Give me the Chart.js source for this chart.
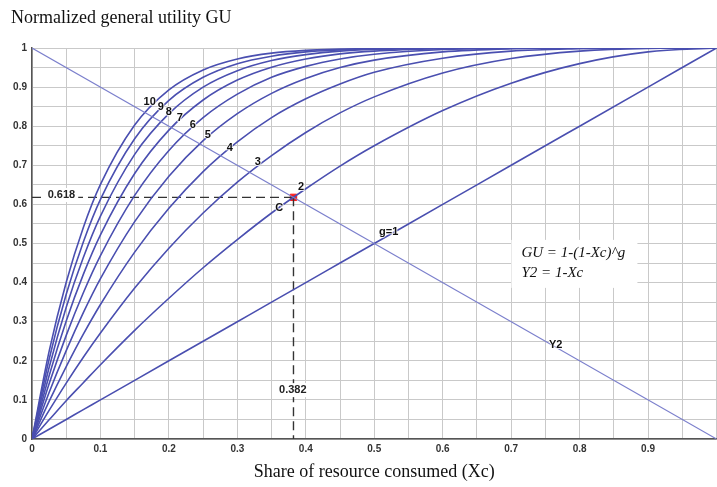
<!DOCTYPE html>
<html>
<head>
<meta charset="utf-8">
<script src="https://cdn.jsdelivr.net/npm/chart.js@4/dist/chart.umd.min.js"></script>
<style>
  html, body { margin: 0; padding: 0; background: #fff; overflow: hidden; }
  #wrap { width: 722px; height: 487px; }
</style>
</head>
<body>
<div id="wrap"><canvas id="gu"></canvas></div>
<script>
// share of resource consumed (Xc)
const xc = [0, 0.025, 0.05, 0.075, 0.1, 0.15, 0.2, 0.25, 0.3, 0.35, 0.4, 0.45, 0.5, 0.6, 0.7, 0.8, 0.9, 1];

// GU curves, one per g
const gu1  = [0, 0.025, 0.05, 0.075, 0.10, 0.15, 0.20, 0.25, 0.30, 0.35, 0.40, 0.45, 0.50, 0.60, 0.70, 0.80, 0.90, 1];
const gu2  = [0, 0.049, 0.098, 0.144, 0.19, 0.278, 0.36, 0.438, 0.51, 0.578, 0.64, 0.698, 0.75, 0.84, 0.91, 0.96, 0.99, 1];
const gu3  = [0, 0.073, 0.143, 0.209, 0.271, 0.386, 0.488, 0.578, 0.657, 0.725, 0.784, 0.834, 0.875, 0.936, 0.973, 0.992, 0.999, 1];
const gu4  = [0, 0.096, 0.185, 0.268, 0.344, 0.478, 0.59, 0.684, 0.76, 0.822, 0.87, 0.908, 0.938, 0.974, 0.992, 0.998, 1, 1];
const gu5  = [0, 0.119, 0.226, 0.323, 0.41, 0.556, 0.672, 0.763, 0.832, 0.884, 0.922, 0.95, 0.969, 0.99, 0.998, 1, 1, 1];
const gu6  = [0, 0.141, 0.265, 0.374, 0.469, 0.623, 0.738, 0.822, 0.882, 0.925, 0.953, 0.972, 0.984, 0.996, 0.999, 1, 1, 1];
const gu7  = [0, 0.162, 0.302, 0.421, 0.522, 0.679, 0.79, 0.867, 0.918, 0.951, 0.972, 0.985, 0.992, 0.998, 1, 1, 1, 1];
const gu8  = [0, 0.183, 0.337, 0.464, 0.57, 0.728, 0.832, 0.90, 0.942, 0.968, 0.983, 0.992, 0.996, 0.999, 1, 1, 1, 1];
const gu9  = [0, 0.204, 0.37, 0.504, 0.613, 0.768, 0.866, 0.925, 0.96, 0.979, 0.99, 0.995, 0.998, 1, 1, 1, 1, 1];
const gu10 = [0, 0.224, 0.401, 0.541, 0.651, 0.803, 0.893, 0.944, 0.972, 0.987, 0.994, 0.997, 0.999, 1, 1, 1, 1, 1];

// Y2 = 1 - Xc
const y2x = [0, 1];
const y2 = [1, 0];

// point C
const cX = 0.382;
const cY = 0.618;

const guCurves = [gu1, gu2, gu3, gu4, gu5, gu6, gu7, gu8, gu9, gu10];

// text placed on the plot (data coordinates)
const notes = [
    { t: "10", x: 0.172, y: 0.862 },
    { t: "9", x: 0.188, y: 0.849 },
    { t: "8", x: 0.200, y: 0.836 },
    { t: "7", x: 0.216, y: 0.821 },
    { t: "6", x: 0.235, y: 0.803 },
    { t: "5", x: 0.257, y: 0.777 },
    { t: "4", x: 0.289, y: 0.744 },
    { t: "3", x: 0.330, y: 0.708 },
    { t: "2", x: 0.393, y: 0.645 },
    { t: "g=1", x: 0.521, y: 0.529 },
    { t: "Y2", x: 0.765, y: 0.240 },
    { t: "C", x: 0.361, y: 0.591 },
];

function pts(xs, ys) {
    return xs.map(function (x, i) { return { x: x, y: ys[i] }; });
}

let datasets = [];

datasets.push({
    label: "Y2",
    data: pts(y2x, y2),
    borderColor: "#7b7fcc",
    borderWidth: 1.1,
    pointRadius: 0,
});

guCurves.forEach(function (g, i) {
    datasets.push({
        label: "g=" + (i + 1),
        data: pts(xc, g),
        borderColor: "#4a4fb0",
        borderWidth: 1.6,
        pointRadius: 0,
        cubicInterpolationMode: "monotone",
    });
});

datasets.push({
    label: "dash h",
    data: [{ x: 0, y: cY }, { x: cX, y: cY }],
    borderColor: "#333",
    borderWidth: 1.4,
    borderDash: [9, 5],
    pointRadius: 0,
});
datasets.push({
    label: "dash v",
    data: [{ x: cX, y: cY }, { x: cX, y: 0 }],
    borderColor: "#333",
    borderWidth: 1.4,
    borderDash: [9, 5],
    pointRadius: 0,
});
datasets.push({
    label: "C",
    data: [{ x: cX, y: cY }],
    showLine: false,
    pointStyle: "rect",
    pointRadius: 4.5,
    backgroundColor: "#ff1a1a",
    borderColor: "#ff1a1a",
});

// draws title, curve labels, boxed values and the formula
const textPlugin = {
    id: "textPlugin",
    afterDatasetsDraw(chart) {
        const ctx = chart.ctx;
        const xs = chart.scales.x;
        const ys = chart.scales.y;
        ctx.save();

        // boxed dashed-line values
        ctx.font = "bold 11px 'Liberation Sans', Arial, sans-serif";
        ctx.textAlign = "center";
        ctx.textBaseline = "middle";
        [["0.618", 0.043, 0.624], ["0.382", 0.381, 0.125]].forEach(function (b) {
            const px = xs.getPixelForValue(b[1]);
            const py = ys.getPixelForValue(b[2]);
            const w = ctx.measureText(b[0]).width + 6;
            ctx.fillStyle = "#fff";
            ctx.fillRect(px - w / 2, py - 7, w, 14);
            ctx.fillStyle = "#222";
            ctx.fillText(b[0], px, py);
        });

        // curve labels
        notes.forEach(function (n) {
            const px = xs.getPixelForValue(n.x);
            const py = ys.getPixelForValue(n.y);
            ctx.lineWidth = 2;
            ctx.strokeStyle = "rgba(255,255,255,0.8)";
            ctx.strokeText(n.t, px, py);
            ctx.fillStyle = "#111";
            ctx.fillText(n.t, px, py);
        });

        // formula box
        const fx = xs.getPixelForValue(0.715);
        const fy = ys.getPixelForValue(0.476);
        ctx.fillStyle = "#fff";
        ctx.fillRect(fx - 10, fy - 13, 126, 48);
        ctx.font = "italic 15px 'Liberation Serif', 'Times New Roman', serif";
        ctx.textAlign = "left";
        ctx.fillStyle = "#111";
        ctx.fillText("GU = 1-(1-Xc)^g", fx, fy);
        ctx.fillText("Y2 = 1-Xc", fx, fy + 20);

        // y title at top left
        ctx.font = "18px 'Liberation Serif', 'Times New Roman', serif";
        ctx.textBaseline = "alphabetic";
        ctx.fillText("Normalized general utility GU", 11, 23);
        ctx.restore();
    },
};

new Chart(document.getElementById("gu"), {
    type: "line",
    data: { datasets: datasets },
    plugins: [textPlugin],
    options: {
        responsive: true,
        maintainAspectRatio: false,
        animation: false,
        layout: { padding: { top: 48, right: 2, left: 0, bottom: 0 } },
        plugins: { legend: { display: false }, tooltip: { enabled: false } },
        scales: {
            x: {
                type: "linear",
                min: 0,
                max: 1,
                afterFit: function (s) { s.height = 48; },
                border: { color: "#555", width: 1.5 },
                grid: { color: "#c9c9c9", lineWidth: 1, drawTicks: false },
                ticks: {
                    stepSize: 0.05,
                    autoSkip: false,
                    maxRotation: 0,
                    padding: 4,
                    color: "#333",
                    font: { family: "'Liberation Sans', Arial, sans-serif", size: 10, weight: "bold" },
                    callback: function (v) {
                        const r = Math.round(v * 100);
                        if (r % 10 !== 0 || r === 100) return "";
                        return String(r / 100);
                    },
                },
                title: {
                    display: true,
                    text: "Share of resource consumed (Xc)",
                    color: "#111",
                    padding: { top: 0, bottom: 4 },
                    font: { family: "'Liberation Serif', 'Times New Roman', serif", size: 18 },
                },
            },
            y: {
                type: "linear",
                min: 0,
                max: 1,
                afterFit: function (s) { s.width = 32; },
                border: { color: "#555", width: 1.5 },
                grid: { color: "#c9c9c9", lineWidth: 1, drawTicks: false },
                ticks: {
                    stepSize: 0.05,
                    autoSkip: false,
                    padding: 5,
                    color: "#333",
                    font: { family: "'Liberation Sans', Arial, sans-serif", size: 10, weight: "bold" },
                    callback: function (v) {
                        const r = Math.round(v * 100);
                        if (r % 10 !== 0) return "";
                        return String(r / 100);
                    },
                },
            },
        },
    },
});
</script>
</body>
</html>
